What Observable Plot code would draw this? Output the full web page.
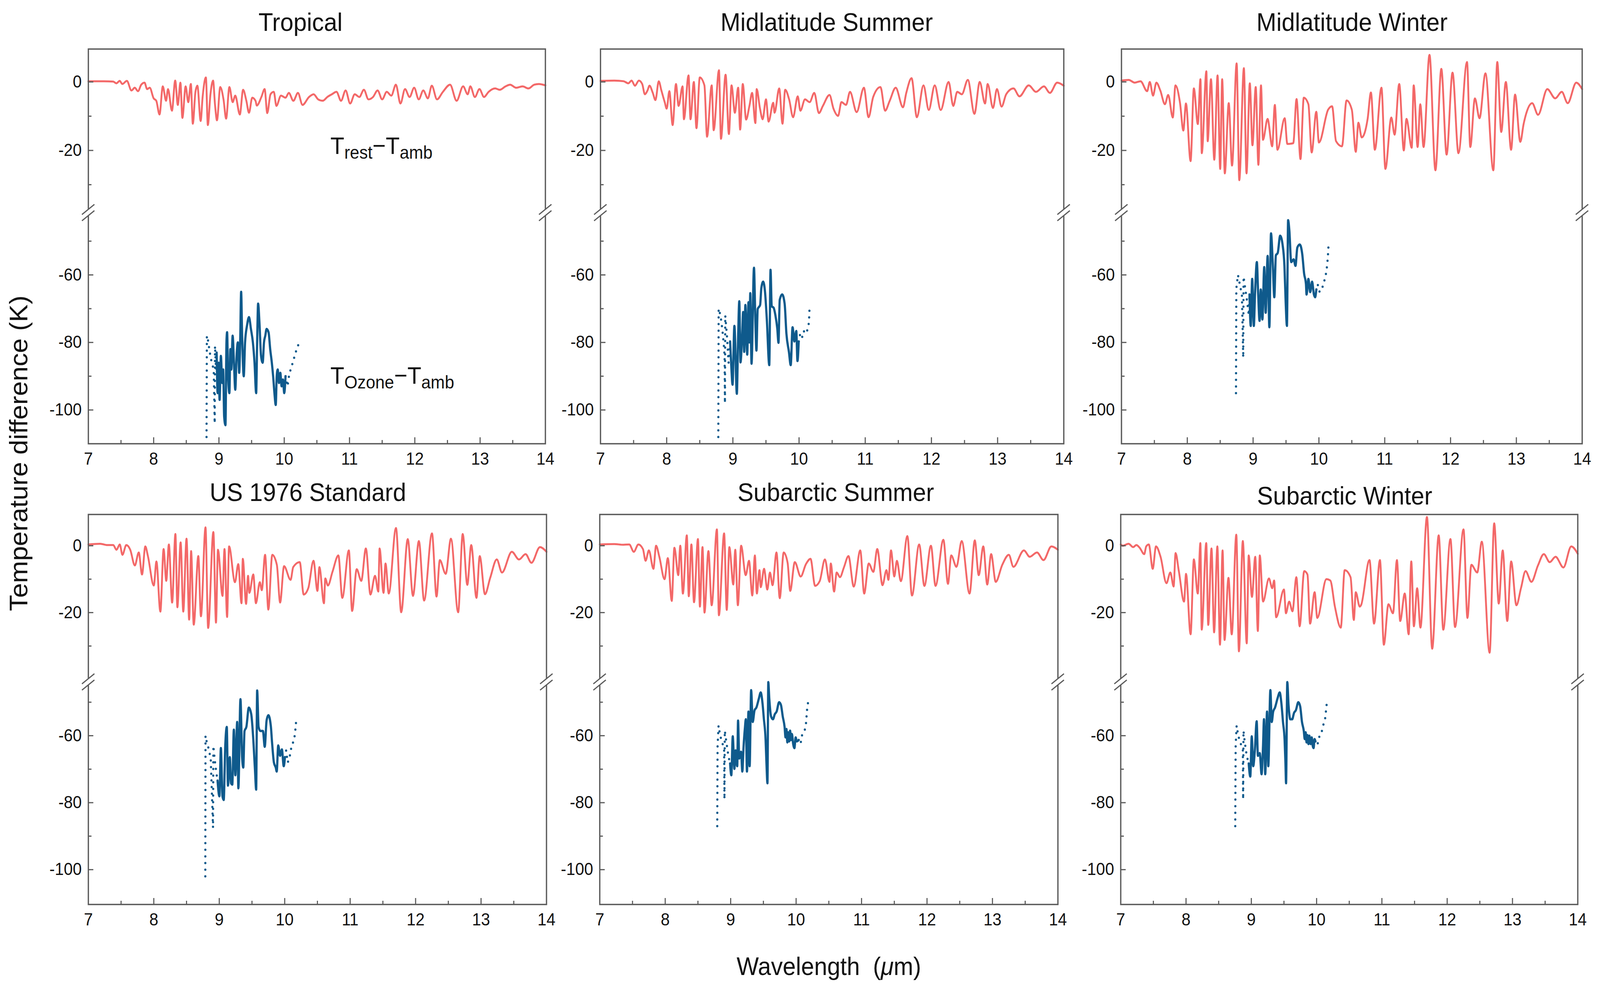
<!DOCTYPE html>
<html><head><meta charset="utf-8">
<script src="https://cdn.jsdelivr.net/npm/d3@7"></script>
<script src="https://cdn.jsdelivr.net/npm/@observablehq/plot@0.6"></script>
<style>
html,body{margin:0;padding:0;background:#fff;overflow:hidden;}
#wrap{position:relative;overflow:hidden;background:#fff;}
#fig{position:absolute;left:0;top:0;width:4355px;height:2518px;overflow:hidden;font-family:"Liberation Sans",Arial,sans-serif;color:#111;background:#fff;transform-origin:0 0;}
.panel{position:absolute;}
.title{position:absolute;font-size:65px;transform:translate(-50%,-50%);white-space:nowrap;line-height:1;}
.axlabel{position:absolute;white-space:nowrap;line-height:1;transform:translate(-50%,-50%);}
</style></head><body><div id="wrap"><div id="fig"></div></div><script>
// ---------- data (wavelength in µm, temperature difference in K) ----------
const xTickLabels = [7, 8, 9, 10, 11, 12, 13, 14];
const xMajorTicks = [8, 9, 10, 11, 12, 13];
const xMinorTicks = [7.5, 8.5, 9.5, 10.5, 11.5, 12.5, 13.5];
const yTickLabels = [0, -20, -60, -80, -100];
const yMinorTicks = [-10, -30, -50, -70, -90];
const panelTitles = ["Tropical", "Midlatitude Summer", "Midlatitude Winter", "US 1976 Standard", "Subarctic Summer", "Subarctic Winter"];

const tropicalRest = [[7.00,0.2],[7.24,0.2],[7.38,0.1],[7.43,-0.4],[7.48,0.3],[7.52,-0.6],[7.59,0.3],[7.66,-2.5],[7.71,-1.7],[7.76,-2.7],[7.81,-0.8],[7.86,-0.2],[7.90,-2.1],[7.94,-1.7],[8.00,-4.8],[8.04,-5.5],[8.09,-9.5],[8.14,-1.3],[8.19,-5.5],[8.22,-2.1],[8.28,-8.4],[8.33,0.4],[8.37,-6.7],[8.41,-0.2],[8.44,-10.5],[8.49,-1.3],[8.53,-5.9],[8.57,-0.6],[8.60,-12.2],[8.64,-2.9],[8.67,-1.1],[8.72,-11.4],[8.75,-4.4],[8.80,1.3],[8.83,-12.6],[8.87,-3.6],[8.91,0.4],[8.94,-6.7],[8.97,-11.2],[9.02,-1.5],[9.07,-5.1],[9.11,-10.7],[9.16,-1.5],[9.21,-5.9],[9.25,-4.0],[9.32,-9.5],[9.37,-2.3],[9.42,-5.5],[9.46,-9.0],[9.51,-4.6],[9.56,-5.5],[9.58,-6.9],[9.65,-4.4],[9.70,-2.1],[9.74,-9.1],[9.79,-3.6],[9.84,-2.9],[9.88,-7.0],[9.95,-4.0],[10.02,-4.6],[10.07,-3.2],[10.14,-5.5],[10.21,-3.2],[10.28,-6.7],[10.38,-4.4],[10.45,-3.6],[10.52,-5.1],[10.59,-5.5],[10.66,-4.4],[10.73,-3.6],[10.80,-2.9],[10.87,-5.5],[10.94,-2.5],[11.01,-6.3],[11.08,-3.6],[11.15,-4.4],[11.22,-2.3],[11.29,-5.1],[11.36,-4.4],[11.43,-2.5],[11.50,-5.1],[11.57,-2.9],[11.64,-4.0],[11.71,-0.8],[11.78,-6.3],[11.85,-2.1],[11.92,-4.4],[11.99,-1.7],[12.06,-5.1],[12.13,-2.5],[12.20,-4.8],[12.26,-1.1],[12.34,-5.1],[12.43,-2.9],[12.54,-0.8],[12.64,-5.5],[12.74,-1.3],[12.81,-3.6],[12.85,-1.3],[12.92,-4.4],[12.99,-2.1],[13.06,-4.4],[13.13,-2.9],[13.23,-1.9],[13.30,-2.3],[13.39,-1.3],[13.46,-0.8],[13.55,-1.7],[13.65,-1.3],[13.74,-1.9],[13.83,-0.8],[13.90,-0.6],[14.00,-1.0]];
const tropicalOzone = [[8.965,-83],[8.98,-95],[8.995,-86],[9.01,-97],[9.03,-84],[9.05,-92],[9.065,-88],[9.08,-102],[9.10,-104.5],[9.115,-80],[9.125,-77],[9.14,-90],[9.16,-95],[9.175,-82],[9.19,-88],[9.21,-78],[9.23,-86],[9.25,-94],[9.27,-84],[9.29,-80],[9.31,-89],[9.325,-80],[9.34,-65],[9.355,-78],[9.38,-90],[9.40,-80],[9.43,-75],[9.46,-72.5],[9.49,-76],[9.52,-80],[9.545,-86],[9.57,-95],[9.585,-80],[9.60,-68.5],[9.62,-74],[9.645,-84],[9.67,-86],[9.69,-80],[9.71,-78],[9.73,-76],[9.76,-77],[9.785,-82],[9.81,-86],[9.83,-90],[9.85,-95],[9.87,-98.5],[9.885,-90],[9.90,-88],[9.92,-92],[9.94,-89],[9.96,-93],[9.98,-91],[10.0,-95],[10.02,-90]];
const tropicalOzoneEdgeL = [[8.81,-108],[8.815,-78],[8.83,-79],[8.86,-83],[8.89,-86],[8.92,-88],[8.935,-104],[8.94,-81],[8.955,-88],[8.965,-83]];
const tropicalOzoneEdgeR = [[10.02,-90],[10.05,-93],[10.08,-89],[10.10,-88],[10.13,-86],[10.16,-84],[10.19,-82],[10.22,-80.5]];

const midSummerRest = [[7.00,0.3],[7.21,0.4],[7.35,0.2],[7.42,-0.4],[7.47,0.4],[7.52,-1.1],[7.58,0.4],[7.63,-0.6],[7.67,-3.6],[7.71,-2.5],[7.74,-1.1],[7.79,-3.2],[7.83,-5.3],[7.88,0.2],[7.92,-2.5],[7.97,-5.9],[8.00,-7.8],[8.04,-2.7],[8.09,-12.6],[8.14,-0.6],[8.18,-7.0],[8.24,-1.3],[8.26,-10.9],[8.33,1.9],[8.36,-10.9],[8.41,0.0],[8.45,-13.5],[8.50,1.3],[8.57,-1.0],[8.61,-16.0],[8.68,-1.0],[8.71,-14.1],[8.79,3.4],[8.82,-16.6],[8.89,2.1],[8.94,-15.2],[8.98,-1.0],[9.03,-9.0],[9.08,-1.7],[9.11,-13.9],[9.15,-0.6],[9.20,-11.0],[9.25,-7.0],[9.29,-3.2],[9.34,-12.0],[9.36,-2.1],[9.41,-7.8],[9.45,-10.9],[9.50,-5.1],[9.54,-11.6],[9.61,-6.1],[9.63,-9.0],[9.70,-1.9],[9.75,-12.2],[9.79,-2.3],[9.85,-5.1],[9.91,-10.3],[9.98,-4.2],[10.02,-8.4],[10.09,-5.1],[10.16,-5.9],[10.23,-3.2],[10.30,-9.1],[10.36,-7.0],[10.46,-3.8],[10.52,-7.8],[10.59,-9.9],[10.64,-5.9],[10.71,-6.7],[10.77,-2.9],[10.87,-8.8],[10.98,-1.7],[11.05,-10.3],[11.12,-4.4],[11.23,-1.5],[11.30,-8.4],[11.37,-5.5],[11.46,-1.7],[11.57,-7.4],[11.62,-3.2],[11.70,1.1],[11.78,-10.3],[11.88,-1.0],[11.96,-8.2],[12.05,-1.0],[12.14,-8.2],[12.26,0.0],[12.33,-7.0],[12.39,-2.9],[12.46,-3.6],[12.55,0.6],[12.65,-9.3],[12.73,0.0],[12.81,-6.3],[12.85,-0.6],[12.93,-7.6],[12.99,-2.1],[13.06,-7.2],[13.13,-3.6],[13.24,-1.9],[13.33,-4.2],[13.47,-1.0],[13.58,-2.9],[13.70,-1.3],[13.79,-3.2],[13.90,-0.2],[14.00,-1.1]];
const midSummerOzone = [[8.958,-79.7],[8.977,-87.4],[8.995,-92.5],[9.023,-75.1],[9.06,-95.2],[9.078,-79.7],[9.097,-67.8],[9.115,-85.9],[9.143,-76.3],[9.155,-71],[9.171,-82.8],[9.189,-68.9],[9.217,-83.6],[9.236,-68.1],[9.25,-80],[9.263,-65.4],[9.282,-86.3],[9.319,-57.9],[9.338,-72.0],[9.356,-82.4],[9.375,-70.1],[9.412,-68.9],[9.43,-63.9],[9.458,-62.0],[9.486,-65.1],[9.513,-73.2],[9.55,-86.7],[9.569,-58.5],[9.587,-69.3],[9.615,-69.7],[9.643,-72.0],[9.671,-75.9],[9.689,-80.1],[9.708,-67.4],[9.745,-65.8],[9.782,-68.5],[9.809,-77.4],[9.847,-82.8],[9.874,-86.7],[9.902,-75.5],[9.93,-79.7],[9.958,-76.6],[9.976,-85.5],[9.995,-79.7]];
const midSummerOzoneEdgeL = [[8.78,-108],[8.785,-70],[8.80,-71],[8.82,-73],[8.84,-76],[8.86,-80],[8.875,-84],[8.88,-98],[8.885,-72],[8.91,-78],[8.935,-86],[8.958,-79.7]];
const midSummerOzoneEdgeR = [[9.995,-79.7],[10.013,-77.8],[10.04,-79],[10.069,-76.6],[10.106,-77.4],[10.133,-75.9],[10.15,-74],[10.16,-68.9]];

const midWinterRest = [[7.00,0.4],[7.11,0.6],[7.20,-0.2],[7.29,0.2],[7.39,-2.7],[7.43,0.0],[7.48,-4.0],[7.53,-0.2],[7.59,-2.5],[7.66,-6.5],[7.71,-3.8],[7.78,-10.4],[7.82,-1.0],[7.89,-6.2],[7.94,-14.2],[7.98,-6.3],[8.05,-23.1],[8.10,-1.9],[8.16,-12.3],[8.20,0.8],[8.22,-20.8],[8.29,3.1],[8.31,-17.3],[8.36,0.8],[8.41,-22.7],[8.46,1.9],[8.50,-25.4],[8.53,0.8],[8.57,-26.7],[8.63,-6.2],[8.68,-24.4],[8.75,5.4],[8.79,-28.7],[8.86,4.0],[8.90,-26.7],[8.95,-0.4],[8.99,-18.5],[9.04,-1.5],[9.08,-24.2],[9.12,-1.0],[9.15,-16.9],[9.22,-10.8],[9.29,-18.8],[9.33,-6.7],[9.37,-19.8],[9.48,-10.6],[9.52,-18.1],[9.61,-17.9],[9.66,-5.0],[9.72,-22.5],[9.77,-4.6],[9.84,-6.5],[9.89,-20.6],[9.96,-8.7],[10.00,-17.7],[10.14,-8.1],[10.20,-7.1],[10.26,-17.3],[10.35,-18.8],[10.42,-5.4],[10.50,-8.1],[10.56,-20.4],[10.60,-11.9],[10.65,-16.2],[10.74,-10.8],[10.79,-3.1],[10.85,-19.8],[10.95,-1.7],[11.01,-25.4],[11.10,-10.4],[11.15,-15.4],[11.22,-0.6],[11.29,-20.0],[11.33,-10.8],[11.41,-19.2],[11.44,-1.0],[11.50,-19.0],[11.54,-6.5],[11.59,-19.0],[11.68,7.9],[11.77,-25.8],[11.86,3.8],[11.94,-21.2],[12.03,2.7],[12.12,-20.8],[12.25,5.8],[12.30,-19.0],[12.37,-4.8],[12.44,-10.6],[12.53,2.5],[12.65,-25.8],[12.71,5.8],[12.77,-14.6],[12.84,0.0],[12.92,-19.8],[12.98,-3.7],[13.06,-17.5],[13.11,-12.3],[13.15,-9.2],[13.24,-6.2],[13.33,-9.6],[13.47,-2.1],[13.59,-4.8],[13.69,-2.9],[13.78,-6.2],[13.91,-0.2],[14.00,-2.1]];
const midWinterOzone = [[8.945,-65.8],[8.964,-75.1],[8.986,-61.2],[9.011,-75.1],[9.029,-65.8],[9.057,-56.2],[9.076,-65.1],[9.098,-73.6],[9.117,-64.3],[9.141,-73.2],[9.169,-57.7],[9.191,-71.2],[9.221,-54.4],[9.247,-75.5],[9.272,-47.7],[9.30,-57.3],[9.322,-66.6],[9.346,-54.2],[9.374,-53.5],[9.411,-48.4],[9.449,-51.2],[9.476,-57.3],[9.495,-68.1],[9.514,-75.1],[9.532,-43.8],[9.551,-46.9],[9.579,-56.2],[9.616,-55.4],[9.644,-57.3],[9.672,-51.9],[9.709,-51.0],[9.747,-53.9],[9.775,-59.6],[9.803,-62.7],[9.812,-65.8],[9.84,-61.2],[9.868,-65.1],[9.896,-62.0],[9.924,-65.8],[9.942,-66.6],[9.961,-64.3]];
const midWinterOzoneEdgeL = [[8.74,-95],[8.745,-64],[8.77,-60],[8.80,-63],[8.83,-66],[8.85,-84.5],[8.855,-60.5],[8.88,-64],[8.91,-68],[8.935,-72],[8.945,-65.8]];
const midWinterOzoneEdgeR = [[9.961,-64.3],[9.98,-62.7],[10.01,-65],[10.035,-64.7],[10.063,-63.1],[10.101,-60.4],[10.119,-58.1],[10.135,-55],[10.147,-50.8]];

const usRest = [[7.00,0.4],[7.18,0.6],[7.29,0.2],[7.38,0.2],[7.43,-1.2],[7.48,0.4],[7.52,-2.7],[7.58,0.2],[7.64,-1.2],[7.71,-5.9],[7.77,-2.0],[7.82,-8.6],[7.87,-0.2],[7.91,-3.1],[8.00,-11.9],[8.04,-4.7],[8.10,-19.7],[8.15,-1.0],[8.19,-10.5],[8.23,0.4],[8.28,-17.0],[8.33,3.5],[8.36,-18.4],[8.41,1.0],[8.45,-19.7],[8.50,2.1],[8.54,-22.1],[8.57,-1.6],[8.61,-23.6],[8.68,-3.1],[8.72,-21.1],[8.79,5.5],[8.83,-24.6],[8.91,4.1],[8.95,-23.0],[8.98,-1.2],[9.05,-15.0],[9.08,-1.0],[9.12,-21.3],[9.15,-0.2],[9.24,-10.9],[9.29,-5.5],[9.34,-17.2],[9.36,-3.9],[9.41,-17.4],[9.44,-9.0],[9.46,-14.1],[9.52,-8.6],[9.56,-17.2],[9.62,-10.9],[9.65,-13.3],[9.70,-2.7],[9.75,-19.1],[9.81,-2.7],[9.88,-5.7],[9.93,-17.0],[9.99,-6.1],[10.09,-10.2],[10.13,-6.4],[10.23,-4.9],[10.29,-14.6],[10.36,-12.7],[10.44,-4.5],[10.50,-13.5],[10.53,-6.4],[10.60,-17.2],[10.62,-9.8],[10.66,-11.9],[10.73,-7.8],[10.82,-2.9],[10.88,-15.6],[10.98,-1.4],[11.03,-19.5],[11.10,-7.0],[11.17,-10.5],[11.24,-0.8],[11.31,-14.6],[11.38,-9.0],[11.43,-13.7],[11.45,-0.8],[11.51,-14.1],[11.54,-5.3],[11.59,-14.3],[11.70,5.3],[11.78,-19.9],[11.88,2.0],[11.96,-15.0],[12.05,1.4],[12.13,-16.4],[12.25,3.7],[12.32,-15.2],[12.37,-4.3],[12.46,-8.4],[12.54,2.1],[12.65,-19.9],[12.72,3.5],[12.79,-11.7],[12.85,0.2],[12.93,-15.6],[12.98,-3.1],[13.06,-14.5],[13.14,-9.6],[13.24,-4.1],[13.32,-8.0],[13.47,-1.8],[13.58,-4.1],[13.68,-2.5],[13.77,-5.1],[13.90,-0.4],[14.00,-1.8]];
const usOzone = [[8.974,-73.4],[9.002,-78.1],[9.025,-63.7],[9.049,-78.1],[9.068,-79.2],[9.092,-62.9],[9.115,-57.4],[9.133,-74.9],[9.161,-66.4],[9.18,-74.2],[9.199,-74.6],[9.223,-58.2],[9.246,-71.8],[9.274,-55.9],[9.292,-75.7],[9.324,-49.1],[9.349,-66.4],[9.367,-69.5],[9.386,-58.6],[9.414,-57.4],[9.452,-51.6],[9.489,-53.6],[9.517,-60.2],[9.545,-69.9],[9.564,-76.1],[9.579,-46.5],[9.601,-57.4],[9.629,-58.6],[9.667,-58.6],[9.695,-63.3],[9.723,-55.5],[9.751,-53.9],[9.788,-57.1],[9.807,-62.1],[9.835,-68.0],[9.863,-69.5],[9.878,-70.7],[9.901,-62.9],[9.929,-66.0],[9.957,-64.1],[9.985,-69.1],[10.004,-66.4]];
const usOzoneEdgeL = [[8.787,-102],[8.79,-60],[8.81,-62],[8.84,-64],[8.87,-67],[8.905,-87.5],[8.91,-63],[8.93,-67],[8.955,-71],[8.974,-73.4]];
const usOzoneEdgeR = [[10.004,-66.4],[10.022,-64.4],[10.045,-68],[10.069,-67.0],[10.107,-62.9],[10.144,-61.3],[10.163,-58.2],[10.181,-54.3]];

const subSummerRest = [[7.00,0.4],[7.22,0.5],[7.36,0.3],[7.45,0.4],[7.52,-1.8],[7.59,0.4],[7.66,-1.0],[7.70,-4.5],[7.75,-1.4],[7.82,-6.9],[7.86,0.0],[7.91,-3.3],[7.99,-10.0],[8.04,-3.7],[8.10,-16.5],[8.14,-0.6],[8.20,-8.8],[8.23,0.0],[8.27,-14.3],[8.33,3.1],[8.36,-15.1],[8.40,0.4],[8.44,-16.9],[8.50,2.0],[8.53,-18.2],[8.57,-0.4],[8.60,-20.0],[8.66,-1.6],[8.71,-17.8],[8.79,4.9],[8.82,-20.8],[8.90,3.7],[8.94,-19.2],[8.98,-0.4],[9.04,-11.6],[9.07,-1.2],[9.11,-17.8],[9.16,0.0],[9.23,-8.8],[9.28,-4.5],[9.33,-14.9],[9.37,-2.9],[9.40,-14.3],[9.44,-7.3],[9.46,-12.4],[9.51,-6.9],[9.56,-13.1],[9.60,-8.0],[9.64,-11.8],[9.70,-2.0],[9.75,-15.7],[9.81,-2.0],[9.87,-5.1],[9.91,-13.5],[9.98,-4.9],[10.07,-9.2],[10.15,-5.5],[10.22,-3.9],[10.29,-12.0],[10.36,-10.6],[10.44,-4.1],[10.51,-10.8],[10.53,-5.3],[10.58,-13.7],[10.62,-8.0],[10.67,-9.4],[10.73,-6.5],[10.80,-3.1],[10.88,-12.2],[10.98,-1.4],[11.04,-14.3],[11.11,-5.3],[11.18,-7.8],[11.24,-1.0],[11.32,-11.8],[11.38,-7.3],[11.41,-10.2],[11.45,-1.4],[11.50,-9.2],[11.54,-4.5],[11.60,-10.6],[11.70,2.9],[11.77,-14.9],[11.88,0.4],[11.96,-12.0],[12.06,0.0],[12.13,-12.0],[12.25,1.8],[12.32,-11.4],[12.37,-2.9],[12.45,-6.3],[12.53,1.4],[12.65,-14.3],[12.73,1.6],[12.79,-8.8],[12.86,-0.2],[12.92,-11.6],[12.98,-2.5],[13.05,-10.8],[13.15,-5.7],[13.25,-2.7],[13.32,-6.3],[13.48,-1.4],[13.57,-3.3],[13.68,-2.0],[13.78,-4.3],[13.90,-0.2],[14.00,-1.2]];
const subSummerOzone = [[8.991,-68.3],[9.01,-71.8],[9.032,-60.2],[9.057,-69.9],[9.075,-64.4],[9.10,-69.1],[9.113,-55.5],[9.131,-66.8],[9.159,-64.8],[9.178,-70.7],[9.197,-63.3],[9.219,-57.4],[9.231,-55.1],[9.249,-70.7],[9.272,-52.8],[9.29,-69.1],[9.313,-46.4],[9.337,-55.9],[9.365,-52.4],[9.393,-51.6],[9.431,-48.9],[9.459,-47.1],[9.487,-50.4],[9.506,-54.7],[9.534,-61.3],[9.547,-68.3],[9.562,-74.2],[9.575,-43.4],[9.59,-48.9],[9.618,-54.3],[9.646,-55.1],[9.674,-53.6],[9.702,-52.8],[9.74,-50.0],[9.768,-50.8],[9.796,-54.3],[9.824,-57.4],[9.838,-60.5],[9.852,-58],[9.866,-62],[9.88,-59],[9.894,-61.7],[9.908,-58.5],[9.922,-61.3],[9.936,-59.5],[9.955,-62.5],[9.974,-63.7],[9.993,-60.5],[10.011,-61.7],[10.039,-61.3]];
const subSummerOzoneEdgeL = [[8.795,-87],[8.80,-63],[8.815,-57],[8.84,-60],[8.87,-62],[8.90,-64],[8.905,-79],[8.91,-58.5],[8.935,-62],[8.965,-66],[8.991,-68.3]];
const subSummerOzoneEdgeR = [[10.039,-61.3],[10.067,-62.5],[10.095,-59.4],[10.133,-58.2],[10.151,-56.3],[10.17,-51.6],[10.189,-49.3]];

const subWinterRest = [[7.00,0.4],[7.03,0.0],[7.12,0.6],[7.19,-0.4],[7.24,0.2],[7.29,-0.6],[7.36,-2.5],[7.39,-0.2],[7.43,0.4],[7.49,-6.9],[7.54,-0.2],[7.61,-3.3],[7.70,-11.2],[7.76,-8.0],[7.81,-12.2],[7.84,-2.2],[7.89,-7.6],[7.97,-16.7],[8.00,-8.4],[8.07,-26.5],[8.12,-4.1],[8.18,-14.3],[8.22,0.8],[8.24,-25.1],[8.31,0.8],[8.34,-23.7],[8.39,-0.8],[8.43,-25.9],[8.48,-0.2],[8.52,-29.6],[8.56,-1.4],[8.59,-28.2],[8.65,-9.6],[8.70,-26.5],[8.77,3.3],[8.81,-31.6],[8.87,1.4],[8.93,-29.2],[8.96,-2.9],[9.01,-15.3],[9.06,-3.3],[9.10,-25.5],[9.13,-2.9],[9.18,-16.7],[9.27,-9.8],[9.32,-12.7],[9.35,-10.4],[9.38,-21.4],[9.50,-13.1],[9.53,-20.2],[9.58,-16.7],[9.63,-19.6],[9.69,-9.4],[9.74,-24.1],[9.81,-7.6],[9.86,-8.6],[9.90,-23.3],[9.97,-13.9],[10.01,-21.6],[10.15,-10.0],[10.21,-10.4],[10.28,-18.2],[10.37,-24.5],[10.43,-7.3],[10.52,-9.4],[10.57,-22.2],[10.60,-13.9],[10.66,-18.2],[10.68,-17.8],[10.81,-4.3],[10.88,-23.3],[10.97,-4.3],[11.03,-29.6],[11.10,-17.5],[11.17,-20.2],[11.23,-4.3],[11.28,-22.5],[11.35,-14.3],[11.41,-26.5],[11.45,-4.7],[11.49,-24.1],[11.54,-12.7],[11.59,-24.5],[11.69,8.6],[11.77,-30.8],[11.87,3.1],[11.94,-25.1],[12.05,2.0],[12.12,-24.3],[12.25,4.9],[12.31,-21.6],[12.37,-5.7],[12.46,-8.0],[12.53,1.2],[12.65,-32.0],[12.72,6.7],[12.79,-17.3],[12.85,-1.4],[12.92,-22.5],[12.98,-4.7],[13.06,-17.8],[13.13,-12.7],[13.20,-7.6],[13.29,-10.8],[13.39,-5.9],[13.48,-2.5],[13.57,-4.9],[13.66,-3.3],[13.78,-6.5],[13.90,-0.2],[14.00,-2.4]];
const subWinterOzone = [[8.96,-68.3],[8.984,-72.2],[9.007,-60.2],[9.029,-69.1],[9.054,-64.4],[9.082,-55.7],[9.101,-66.0],[9.129,-65.2],[9.157,-71.5],[9.179,-63.3],[9.194,-55.1],[9.213,-71.5],[9.241,-52.8],[9.26,-69.1],[9.292,-46.4],[9.313,-55.9],[9.335,-52.8],[9.363,-51.6],[9.401,-48.9],[9.435,-47.1],[9.461,-50.4],[9.485,-55.9],[9.51,-61.3],[9.523,-68.3],[9.532,-74.2],[9.551,-43.4],[9.57,-50.8],[9.598,-55.1],[9.626,-55.1],[9.654,-53.2],[9.682,-52.4],[9.72,-50.0],[9.748,-51.2],[9.776,-55.9],[9.804,-58.6],[9.818,-61],[9.832,-59],[9.846,-62],[9.86,-59.8],[9.875,-62.5],[9.889,-60],[9.908,-62.5],[9.926,-60.5],[9.94,-63],[9.954,-63.7],[9.968,-61],[9.982,-61.7]];
const subWinterOzoneEdgeL = [[8.754,-87],[8.76,-63],[8.775,-57],[8.80,-60],[8.83,-62],[8.87,-64],[8.875,-79],[8.88,-58.5],[8.90,-62],[8.93,-66],[8.96,-68.3]];
const subWinterOzoneEdgeR = [[9.982,-61.7],[10.01,-62.9],[10.048,-59.8],[10.076,-59.0],[10.104,-56.7],[10.132,-54.7],[10.161,-49.3]];

// ---------- layout & style ----------
const RED = "#f36868", BLUE = "#0f5a8c", AXIS = "#5a5a5a";
const FONT = "Liberation Sans, Arial, sans-serif";
const rows = [
  {breakY: 544, yDomain: [-110, -41.6, -38.2, 9.6]},
  {breakY: 1745, yDomain: [-110.4, -44.0, -40.8, 9.36]}
];
const panels = [
  {rest: tropicalRest, ozone: tropicalOzone, edgeL: tropicalOzoneEdgeL, edgeR: tropicalOzoneEdgeR, row: 0, box: [240, 1484, 125, 1135], title: [818, 56], annotate: true},
  {rest: midSummerRest, ozone: midSummerOzone, edgeL: midSummerOzoneEdgeL, edgeR: midSummerOzoneEdgeR, row: 0, box: [1634, 2895, 125, 1135], title: [2250, 56]},
  {rest: midWinterRest, ozone: midWinterOzone, edgeL: midWinterOzoneEdgeL, edgeR: midWinterOzoneEdgeR, row: 0, box: [3052, 4306, 125, 1135], title: [3680, 56]},
  {rest: usRest, ozone: usOzone, edgeL: usOzoneEdgeL, edgeR: usOzoneEdgeR, row: 1, box: [240, 1487, 1316, 2314], title: [838, 1259]},
  {rest: subSummerRest, ozone: subSummerOzone, edgeL: subSummerOzoneEdgeL, edgeR: subSummerOzoneEdgeR, row: 1, box: [1632, 2879, 1316, 2314], title: [2275, 1259]},
  {rest: subWinterRest, ozone: subWinterOzone, edgeL: subWinterOzoneEdgeL, edgeR: subWinterOzoneEdgeR, row: 1, box: [3050, 4294, 1316, 2314], title: [3660, 1268]}
];

// fit the 4355x2518 figure into the actual viewport
const FIG_W = 4355, FIG_H = 2518;
const vw = document.documentElement.clientWidth || window.innerWidth || FIG_W;
const vh = document.documentElement.clientHeight || window.innerHeight || FIG_H;
const SX = vw > 0 && vw < FIG_W ? vw / FIG_W : 1;
const SY = vh > 1200 && vh < FIG_H ? vh / FIG_H : 1;
const wrap = document.getElementById("wrap");
wrap.style.width = (FIG_W * SX) + "px";
wrap.style.height = (FIG_H * SY) + "px";
const fig = document.getElementById("fig");
fig.style.transform = `scale(${SX}, ${SY})`;

const fmt = d => d < 0 ? "-" + (-d) : String(d);

panels.forEach((p, i) => {
  const [L, R, T, B] = p.box;
  const mL = 200, mR = 60, mT = 30, mB = 100;
  const innerW = R - L, innerH = B - T;
  const w = innerW + mL + mR, h = innerH + mT + mB;
  const row = rows[p.row];
  const yb = row.breakY - T + mT;
  const line = (data, opts) => Plot.line(data, {x: d => d[0], y: d => d[1], ...opts});
  const svg = Plot.plot({
    width: w, height: h,
    marginLeft: mL, marginRight: mR, marginTop: mT, marginBottom: mB,
    style: {background: "transparent", overflow: "visible", fontFamily: FONT, maxWidth: "none", color: "#111"},
    x: {domain: [7, 14]},
    y: {type: "linear", domain: row.yDomain, range: [h - mB, yb, yb, mT]},
    marks: [
      line(p.rest, {stroke: RED, strokeWidth: 5, strokeLinejoin: "round", curve: "monotone-x"}),
      line(p.edgeL, {stroke: BLUE, strokeWidth: 6, strokeDasharray: "0,17", strokeLinecap: "round"}),
      line(p.edgeR, {stroke: BLUE, strokeWidth: 6, strokeDasharray: "0,17", strokeLinecap: "round"}),
      line(p.ozone, {stroke: BLUE, strokeWidth: 6, strokeLinejoin: "round", curve: "monotone-x"}),
      Plot.tickX(xMajorTicks, {x: d => d, insetTop: innerH - 16, stroke: AXIS, strokeWidth: 3}),
      Plot.tickX(xMinorTicks, {x: d => d, insetTop: innerH - 9, stroke: AXIS, strokeWidth: 3}),
      Plot.tickY(yTickLabels, {y: d => d, insetRight: innerW - 14, stroke: AXIS, strokeWidth: 3}),
      Plot.tickY(yMinorTicks, {y: d => d, insetRight: innerW - 9, stroke: AXIS, strokeWidth: 3}),
      Plot.frame({stroke: AXIS, strokeWidth: 3.5}),
      Plot.axisX({ticks: xTickLabels, tickSize: 0, tickPadding: 22, fontSize: 44, tickFormat: fmt, label: null, fill: "#111"}),
      Plot.axisY({ticks: yTickLabels, tickSize: 0, tickPadding: 18, fontSize: 44, tickFormat: fmt, label: null, fill: "#111"})
    ]
  });
  // axis break marks "//" on left and right frame edges
  const g = d3.select(svg).append("g");
  for (const xp of [mL, w - mR]) {
    g.append("rect").attr("x", xp - 9).attr("y", yb - 8).attr("width", 18).attr("height", 16).attr("fill", "white");
    for (const off of [-8, 8]) {
      g.append("line").attr("x1", xp - 17).attr("y1", yb + off + 13).attr("x2", xp + 17).attr("y2", yb + off - 13)
        .attr("stroke", AXIS).attr("stroke-width", 3);
    }
  }
  if (p.annotate) {
    const xs = svg.scale("x"), ys = svg.scale("y");
    const addLabel = (sub1, yv) => {
      const t = g.append("text").attr("x", xs.apply(10.71)).attr("y", ys.apply(yv))
        .attr("text-anchor", "start").attr("font-size", 62).attr("fill", "#111").attr("font-family", FONT);
      t.append("tspan").text("T");
      t.append("tspan").attr("font-size", 46).attr("dy", 12).text(sub1);
      t.append("tspan").attr("dy", -12).text("\u2212T");
      t.append("tspan").attr("font-size", 46).attr("dy", 12).text("amb");
    };
    addLabel("rest", -21.1);
    addLabel("Ozone", -92.3);
  }
  const div = document.createElement("div");
  div.className = "panel";
  div.style.left = (L - mL) + "px";
  div.style.top = (T - mT) + "px";
  div.style.width = w + "px";
  div.style.height = h + "px";
  div.appendChild(svg);
  fig.appendChild(div);

  const tt = document.createElement("div");
  tt.className = "title";
  tt.style.left = p.title[0] + "px";
  tt.style.top = p.title[1] + "px";
  tt.textContent = panelTitles[i];
  fig.appendChild(tt);
});

const yl = document.createElement("div");
yl.className = "axlabel";
yl.style.fontSize = "68px";
yl.style.left = "50px"; yl.style.top = "1160px";
yl.style.transform = "translate(-50%,-50%) rotate(-90deg)";
yl.textContent = "Temperature difference (K)";
fig.appendChild(yl);

const xl = document.createElement("div");
xl.className = "axlabel";
xl.style.fontSize = "64px";
xl.style.left = "2256px"; xl.style.top = "2473px";
xl.innerHTML = "Wavelength&nbsp; (<i>\u03bc</i>m)";
fig.appendChild(xl);
</script></body></html>
